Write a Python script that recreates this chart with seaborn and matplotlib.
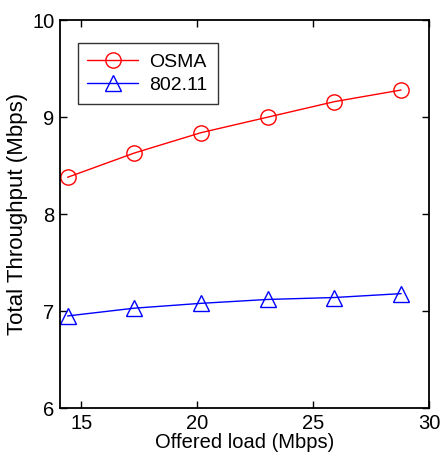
import pandas as pd
import matplotlib
matplotlib.use("Agg")
import matplotlib.pyplot as plt
import seaborn as sns

offered_load = [14.4, 17.28, 20.16, 23.04, 25.92, 28.8]
osma = [8.38, 8.63, 8.84, 9.0, 9.16, 9.28]
dot11 = [6.95, 7.03, 7.08, 7.12, 7.14, 7.18]
series_names = ["OSMA", "802.11"]

df = pd.DataFrame({
    "load": offered_load * 2,
    "thr": osma + dot11,
    "proto": [series_names[0]] * 6 + [series_names[1]] * 6,
})

sns.set_style("ticks")
plt.rcParams["font.family"] = ["Liberation Sans", "DejaVu Sans"]
plt.rcParams["text.color"] = "black"
plt.rcParams["axes.labelcolor"] = "black"
plt.rcParams["xtick.color"] = "black"
plt.rcParams["ytick.color"] = "black"
plt.rcParams["axes.edgecolor"] = "black"

fig = plt.figure(figsize=(4.44, 4.59), dpi=100)
ax = fig.add_axes([0.135, 0.111, 0.831, 0.845])

sns.lineplot(data=df, x="load", y="thr", hue="proto", style="proto",
             palette={"OSMA": "red", "802.11": "blue"},
             markers={"OSMA": "o", "802.11": "^"}, dashes=False,
             markersize=11, markeredgewidth=1.0,
             linewidth=1.0, ax=ax)
for line in ax.lines:
    line.set_markerfacecolor("none")
    line.set_markeredgecolor(line.get_color())

ax.set_xlim(14.07, 30)
ax.set_ylim(6, 10)
ax.set_xticks([15, 20, 25, 30])
ax.set_yticks([6, 7, 8, 9, 10])
ax.tick_params(direction="in", top=True, right=True, labelsize=14.5, length=5, width=1, pad=4)
for s in ax.spines.values():
    s.set_linewidth(1.3)
ax.set_xlabel("Offered load (Mbps)", fontsize=14.5, labelpad=0)
ax.set_ylabel("Total Throughput (Mbps)", fontsize=16, labelpad=3)

handles, labels = ax.get_legend_handles_labels()
for h in handles:
    h.set_markerfacecolor("none")
    h.set_markeredgecolor(h.get_color())
leg = ax.legend(handles, labels, loc="upper left", bbox_to_anchor=(0.048, 0.94),
                borderaxespad=0, fontsize=14, frameon=True, fancybox=False,
                edgecolor="black", handlelength=2.6, handletextpad=0.6,
                borderpad=0.5, labelspacing=0.3)
leg.get_frame().set_linewidth(1.0)

fig.savefig("out.png", dpi=100)
